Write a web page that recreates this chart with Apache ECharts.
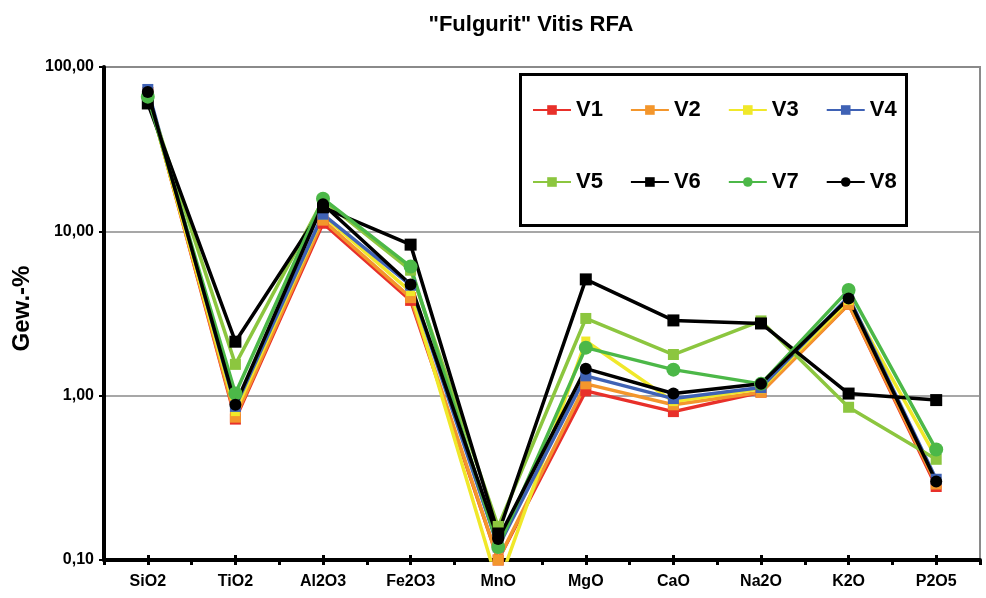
<!DOCTYPE html>
<html>
<head>
<meta charset="utf-8">
<script src="https://cdn.jsdelivr.net/npm/echarts@6/dist/echarts.min.js"></script>
<style>
html,body{margin:0;padding:0;background:#fff;}
#chart{width:986px;height:598px;}
</style>
</head>
<body>
<div id="chart"></div>
<script>
const categories = ['SiO2','TiO2','Al2O3','Fe2O3','MnO','MgO','CaO','Na2O','K2O','P2O5'];
const yTicks = [0.1, 1, 10, 100];
const V1 = [70, 0.72, 11.2, 3.8, 0.10, 1.07, 0.80, 1.05, 3.6, 0.28];
const V2 = [70, 0.74, 11.7, 3.95, 0.10, 1.18, 0.88, 1.05, 3.6, 0.29];
const V3 = [68, 0.80, 12.5, 4.3, 0.07, 2.15, 0.92, 1.10, 3.8, 0.42];
const V4 = [73, 0.86, 12.7, 4.7, 0.12, 1.32, 0.96, 1.12, 4.0, 0.31];
const V5 = [66, 1.55, 15.5, 5.8, 0.16, 2.95, 1.78, 2.85, 0.85, 0.41];
const V6 = [60, 2.13, 14.0, 8.3, 0.145, 5.1, 2.87, 2.75, 1.03, 0.94];
const V7 = [66, 1.03, 15.8, 6.1, 0.12, 1.96, 1.44, 1.18, 4.4, 0.47];
const V8 = [70.5, 0.88, 14.6, 4.75, 0.134, 1.46, 1.03, 1.18, 3.9, 0.30];

const seriesDefs = [
  {name:'V1', data:V1, color:'#e8302a', symbol:'rect', size:11},
  {name:'V2', data:V2, color:'#f3962c', symbol:'rect', size:11},
  {name:'V3', data:V3, color:'#f0e82a', symbol:'rect', size:9},
  {name:'V4', data:V4, color:'#3f62b5', symbol:'rect', size:11},
  {name:'V5', data:V5, color:'#8cc63f', symbol:'rect', size:11},
  {name:'V6', data:V6, color:'#000000', symbol:'rect', size:12},
  {name:'V7', data:V7, color:'#4cb848', symbol:'circle', size:14},
  {name:'V8', data:V8, color:'#000000', symbol:'circle', size:12}
];

const FONT = 'Liberation Sans, Arial, sans-serif';
const chart = echarts.init(document.getElementById('chart'), null, {renderer:'canvas'});

const legendBase = {
  itemWidth: 38, itemHeight: 12, itemGap: 27,
  textStyle: {fontFamily: FONT, fontWeight: 'bold', fontSize: 22, color: '#000', padding:[0,0,0,0]},
  padding: 0
};

chart.setOption({
  animation: false,
  backgroundColor: '#fff',
  title: {
    text: '"Fulgurit" Vitis RFA',
    left: 526, top: 9, textAlign: 'center',
    textStyle: {fontFamily: FONT, fontWeight: 'bold', fontSize: 22, color: '#000'}
  },
  legend: [
    Object.assign({}, legendBase, {data: ['V1','V2','V3','V4'], left: 532, top: 99}),
    Object.assign({}, legendBase, {data: ['V5','V6','V7','V8'], left: 532, top: 171})
  ],
  graphic: [{
    type: 'rect', left: 518, top: 72, z: 100,
    shape: {width: 386, height: 151},
    style: {fill: 'none', stroke: '#000', lineWidth: 3}
  }],
  grid: {
    left: 104, right: 6, top: 67, bottom: 38,
    show: true, borderColor: '#8a8a8a', borderWidth: 2, backgroundColor: '#fff'
  },
  xAxis: [
    {
      type: 'category', data: categories, boundaryGap: true, position: 'bottom',
      axisLine: {lineStyle: {color: '#000', width: 4}},
      axisTick: {show: true, length: 5, lineStyle: {color:'#000', width: 3}},
      axisLabel: {fontFamily: FONT, fontWeight: 'bold', fontSize: 16, color: '#000', margin: 14},
      splitLine: {show: false}
    },
    {
      type: 'category', data: categories, boundaryGap: true, position: 'bottom',
      axisLine: {show: false},
      axisTick: {show: true, alignWithLabel: true, length: 5, lineStyle: {color:'#000', width: 3}},
      axisLabel: {show: false}, splitLine: {show: false}
    },
    {
      type: 'category', data: categories, boundaryGap: true, position: 'bottom',
      axisLine: {show: false},
      axisTick: {show: true, inside: true, alignWithLabel: true, length: 5, lineStyle: {color:'#000', width: 3}},
      axisLabel: {show: false}, splitLine: {show: false}
    }
  ],
  yAxis: {
    type: 'log', logBase: 10, min: yTicks[0], max: yTicks[yTicks.length-1],
    name: 'Gew.-%', nameLocation: 'middle', nameGap: 70, nameRotate: 90,
    nameTextStyle: {fontFamily: FONT, fontWeight: 'bold', fontSize: 24, color: '#000', padding: [0, 0, 0, 10]},
    axisLine: {show: true, lineStyle: {color: '#000', width: 4}},
    axisTick: {show: true, length: 5, lineStyle: {color: '#000', width: 2}},
    axisLabel: {
      fontFamily: FONT, fontWeight: 'bold', fontSize: 16, color: '#000', margin: 10,
      formatter: v => v.toFixed(2).replace('.', ',')
    },
    splitLine: {show: true, lineStyle: {color: '#8a8a8a', width: 1.5}}
  },
  series: seriesDefs.map(s => ({
    name: s.name, type: 'line', data: s.data, xAxisIndex: 0,
    symbol: s.symbol, symbolSize: s.size, showSymbol: true,
    itemStyle: {color: s.color},
    lineStyle: {color: s.color, width: 3.5},
    clip: true
  }))
});
</script>
</body>
</html>
